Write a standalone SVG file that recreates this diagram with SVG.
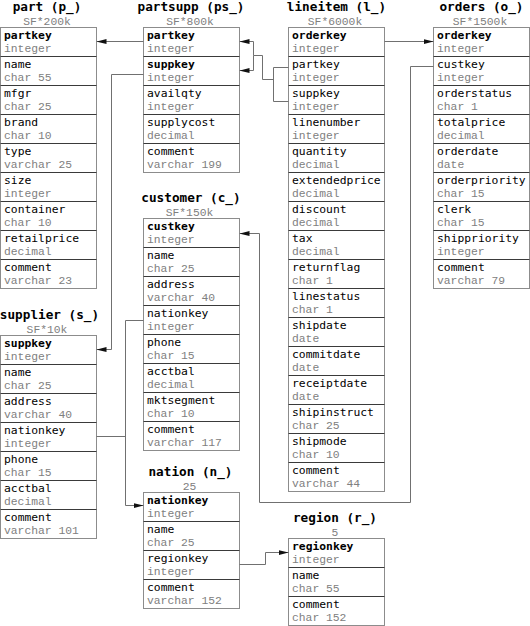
<svg xmlns="http://www.w3.org/2000/svg" width="530" height="626" viewBox="0 0 530 626">
<style>
  .box{fill:#fff;stroke:#8c8c8c;stroke-width:1}
  .sep{fill:none;stroke:#3a3a3a;stroke-width:1}
  .nm{font-family:"DejaVu Sans Mono",monospace;font-size:11.33px;fill:#000}
  .pk{font-weight:bold}
  .ty{font-family:"Liberation Mono","DejaVu Sans Mono",monospace;font-size:11.33px;fill:#808080}
  .title{font-family:"DejaVu Sans Mono",monospace;font-size:12.7px;font-weight:bold;fill:#000;text-anchor:middle}
  .sf{font-family:"Liberation Mono","DejaVu Sans Mono",monospace;font-size:11.33px;fill:#808080;text-anchor:middle}
  .conn{fill:none;stroke:#707070;stroke-width:1}
</style>
<defs>
  <marker id="arr" viewBox="0 0 10 5" refX="10" refY="2.5" markerWidth="10" markerHeight="5" markerUnits="userSpaceOnUse" orient="auto">
    <path d="M0,0L10,2.5L0,5z" fill="#111"/>
  </marker>
</defs>

<g id="part">
  <text class="title" x="47" y="11">part (p_)</text>
  <text class="sf" x="47" y="25">SF*200k</text>
  <rect class="box" x="0.5" y="27.5" width="96" height="261"/>
  <path class="sep" d="M0.5,56.5h96M0.5,85.5h96M0.5,114.5h96M0.5,143.5h96M0.5,172.5h96M0.5,201.5h96M0.5,230.5h96M0.5,259.5h96"/>
  <text class="nm pk" x="4" y="39">partkey</text><text class="ty" x="4" y="52">integer</text>
  <text class="nm" x="4" y="68">name</text><text class="ty" x="4" y="81">char 55</text>
  <text class="nm" x="4" y="97">mfgr</text><text class="ty" x="4" y="110">char 25</text>
  <text class="nm" x="4" y="126">brand</text><text class="ty" x="4" y="139">char 10</text>
  <text class="nm" x="4" y="155">type</text><text class="ty" x="4" y="168">varchar 25</text>
  <text class="nm" x="4" y="184">size</text><text class="ty" x="4" y="197">integer</text>
  <text class="nm" x="4" y="213">container</text><text class="ty" x="4" y="226">char 10</text>
  <text class="nm" x="4" y="242">retailprice</text><text class="ty" x="4" y="255">decimal</text>
  <text class="nm" x="4" y="271">comment</text><text class="ty" x="4" y="284">varchar 23</text>
</g>

<g id="partsupp">
  <text class="title" x="191" y="11">partsupp (ps_)</text>
  <text class="sf" x="190" y="25">SF*800k</text>
  <rect class="box" x="143.5" y="27.5" width="96" height="145"/>
  <path class="sep" d="M143.5,56.5h96M143.5,85.5h96M143.5,114.5h96M143.5,143.5h96"/>
  <text class="nm pk" x="147" y="39">partkey</text><text class="ty" x="147" y="52">integer</text>
  <text class="nm pk" x="147" y="68">suppkey</text><text class="ty" x="147" y="81">integer</text>
  <text class="nm" x="147" y="97">availqty</text><text class="ty" x="147" y="110">integer</text>
  <text class="nm" x="147" y="126">supplycost</text><text class="ty" x="147" y="139">decimal</text>
  <text class="nm" x="147" y="155">comment</text><text class="ty" x="147" y="168">varchar 199</text>
</g>

<g id="lineitem">
  <text class="title" x="336.5" y="11">lineitem (l_)</text>
  <text class="sf" x="335" y="25">SF*6000k</text>
  <rect class="box" x="288.5" y="27.5" width="96" height="464"/>
  <path class="sep" d="M288.5,56.5h96M288.5,85.5h96M288.5,114.5h96M288.5,143.5h96M288.5,172.5h96M288.5,201.5h96M288.5,230.5h96M288.5,259.5h96M288.5,288.5h96M288.5,317.5h96M288.5,346.5h96M288.5,375.5h96M288.5,404.5h96M288.5,433.5h96M288.5,462.5h96"/>
  <text class="nm pk" x="292" y="39">orderkey</text><text class="ty" x="292" y="52">integer</text>
  <text class="nm" x="292" y="68">partkey</text><text class="ty" x="292" y="81">integer</text>
  <text class="nm" x="292" y="97">suppkey</text><text class="ty" x="292" y="110">integer</text>
  <text class="nm" x="292" y="126">linenumber</text><text class="ty" x="292" y="139">integer</text>
  <text class="nm" x="292" y="155">quantity</text><text class="ty" x="292" y="168">decimal</text>
  <text class="nm" x="292" y="184">extendedprice</text><text class="ty" x="292" y="197">decimal</text>
  <text class="nm" x="292" y="213">discount</text><text class="ty" x="292" y="226">decimal</text>
  <text class="nm" x="292" y="242">tax</text><text class="ty" x="292" y="255">decimal</text>
  <text class="nm" x="292" y="271">returnflag</text><text class="ty" x="292" y="284">char 1</text>
  <text class="nm" x="292" y="300">linestatus</text><text class="ty" x="292" y="313">char 1</text>
  <text class="nm" x="292" y="329">shipdate</text><text class="ty" x="292" y="342">date</text>
  <text class="nm" x="292" y="358">commitdate</text><text class="ty" x="292" y="371">date</text>
  <text class="nm" x="292" y="387">receiptdate</text><text class="ty" x="292" y="400">date</text>
  <text class="nm" x="292" y="416">shipinstruct</text><text class="ty" x="292" y="429">char 25</text>
  <text class="nm" x="292" y="445">shipmode</text><text class="ty" x="292" y="458">char 10</text>
  <text class="nm" x="292" y="474">comment</text><text class="ty" x="292" y="487">varchar 44</text>
</g>

<g id="orders">
  <text class="title" x="481.5" y="11">orders (o_)</text>
  <text class="sf" x="480" y="25">SF*1500k</text>
  <rect class="box" x="433.5" y="27.5" width="96" height="261"/>
  <path class="sep" d="M433.5,56.5h96M433.5,85.5h96M433.5,114.5h96M433.5,143.5h96M433.5,172.5h96M433.5,201.5h96M433.5,230.5h96M433.5,259.5h96"/>
  <text class="nm pk" x="437" y="39">orderkey</text><text class="ty" x="437" y="52">integer</text>
  <text class="nm" x="437" y="68">custkey</text><text class="ty" x="437" y="81">integer</text>
  <text class="nm" x="437" y="97">orderstatus</text><text class="ty" x="437" y="110">char 1</text>
  <text class="nm" x="437" y="126">totalprice</text><text class="ty" x="437" y="139">decimal</text>
  <text class="nm" x="437" y="155">orderdate</text><text class="ty" x="437" y="168">date</text>
  <text class="nm" x="437" y="184">orderpriority</text><text class="ty" x="437" y="197">char 15</text>
  <text class="nm" x="437" y="213">clerk</text><text class="ty" x="437" y="226">char 15</text>
  <text class="nm" x="437" y="242">shippriority</text><text class="ty" x="437" y="255">integer</text>
  <text class="nm" x="437" y="271">comment</text><text class="ty" x="437" y="284">varchar 79</text>
</g>

<g id="customer">
  <text class="title" x="191" y="202">customer (c_)</text>
  <text class="sf" x="189.5" y="216">SF*150k</text>
  <rect class="box" x="143.5" y="218.5" width="96" height="232"/>
  <path class="sep" d="M143.5,247.5h96M143.5,276.5h96M143.5,305.5h96M143.5,334.5h96M143.5,363.5h96M143.5,392.5h96M143.5,421.5h96"/>
  <text class="nm pk" x="147" y="230">custkey</text><text class="ty" x="147" y="243">integer</text>
  <text class="nm" x="147" y="259">name</text><text class="ty" x="147" y="272">char 25</text>
  <text class="nm" x="147" y="288">address</text><text class="ty" x="147" y="301">varchar 40</text>
  <text class="nm" x="147" y="317">nationkey</text><text class="ty" x="147" y="330">integer</text>
  <text class="nm" x="147" y="346">phone</text><text class="ty" x="147" y="359">char 15</text>
  <text class="nm" x="147" y="375">acctbal</text><text class="ty" x="147" y="388">decimal</text>
  <text class="nm" x="147" y="404">mktsegment</text><text class="ty" x="147" y="417">char 10</text>
  <text class="nm" x="147" y="433">comment</text><text class="ty" x="147" y="446">varchar 117</text>
</g>

<g id="supplier">
  <text class="title" x="49.5" y="319">supplier (s_)</text>
  <text class="sf" x="47" y="333">SF*10k</text>
  <rect class="box" x="0.5" y="335.5" width="96" height="203"/>
  <path class="sep" d="M0.5,364.5h96M0.5,393.5h96M0.5,422.5h96M0.5,451.5h96M0.5,480.5h96M0.5,509.5h96"/>
  <text class="nm pk" x="4" y="347">suppkey</text><text class="ty" x="4" y="360">integer</text>
  <text class="nm" x="4" y="376">name</text><text class="ty" x="4" y="389">char 25</text>
  <text class="nm" x="4" y="405">address</text><text class="ty" x="4" y="418">varchar 40</text>
  <text class="nm" x="4" y="434">nationkey</text><text class="ty" x="4" y="447">integer</text>
  <text class="nm" x="4" y="463">phone</text><text class="ty" x="4" y="476">char 15</text>
  <text class="nm" x="4" y="492">acctbal</text><text class="ty" x="4" y="505">decimal</text>
  <text class="nm" x="4" y="521">comment</text><text class="ty" x="4" y="534">varchar 101</text>
</g>

<g id="nation">
  <text class="title" x="190.5" y="476">nation (n_)</text>
  <text class="sf" x="189.5" y="490">25</text>
  <rect class="box" x="143.5" y="492.5" width="96" height="116"/>
  <path class="sep" d="M143.5,521.5h96M143.5,550.5h96M143.5,579.5h96"/>
  <text class="nm pk" x="147" y="504">nationkey</text><text class="ty" x="147" y="517">integer</text>
  <text class="nm" x="147" y="533">name</text><text class="ty" x="147" y="546">char 25</text>
  <text class="nm" x="147" y="562">regionkey</text><text class="ty" x="147" y="575">integer</text>
  <text class="nm" x="147" y="591">comment</text><text class="ty" x="147" y="604">varchar 152</text>
</g>

<g id="region">
  <text class="title" x="335" y="522">region (r_)</text>
  <text class="sf" x="335" y="536">5</text>
  <rect class="box" x="288.5" y="538.5" width="96" height="87"/>
  <path class="sep" d="M288.5,567.5h96M288.5,596.5h96"/>
  <text class="nm pk" x="292" y="550">regionkey</text><text class="ty" x="292" y="563">integer</text>
  <text class="nm" x="292" y="579">name</text><text class="ty" x="292" y="592">char 55</text>
  <text class="nm" x="292" y="608">comment</text><text class="ty" x="292" y="621">char 152</text>
</g>

<g id="connectors">
  <path class="conn" d="M143.5,41.5H96.5" marker-end="url(#arr)"/>
  <path class="conn" d="M288.5,67.5H273.5V101.5H288.5"/>
  <path class="conn" d="M273.5,79.5H262.5V55.5H253.5V41.5H239.5" marker-end="url(#arr)"/>
  <path class="conn" d="M253.5,55.5V70.5H239.5" marker-end="url(#arr)"/>
  <path class="conn" d="M143.5,74.5H111.5V349.5H96.5" marker-end="url(#arr)"/>
  <path class="conn" d="M384.5,41.5H433.5" marker-end="url(#arr)"/>
  <path class="conn" d="M433.5,66.5H410.5V502.5H259.5V233.5H239.5" marker-end="url(#arr)"/>
  <path class="conn" d="M143.5,320.5H125.5V505.5H143.5" marker-end="url(#arr)"/>
  <path class="conn" d="M96.5,436.5H125.5"/>
  <path class="conn" d="M239.5,564.5H265.5V552.5H288.5" marker-end="url(#arr)"/>
</g>
</svg>
